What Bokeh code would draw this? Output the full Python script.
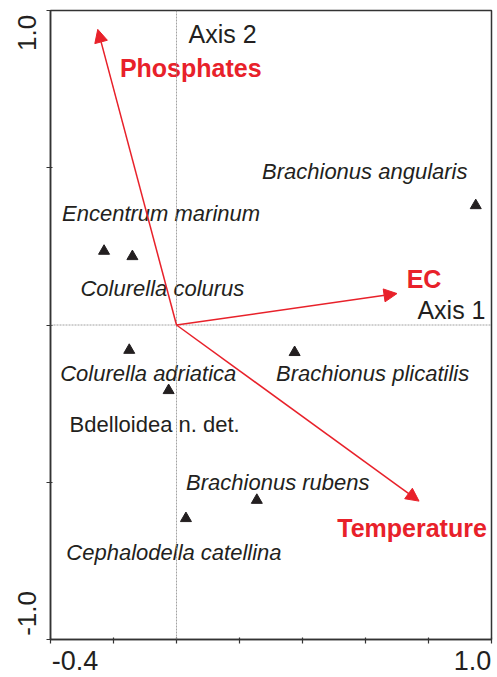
from math import pi
from bokeh.plotting import figure
from bokeh.models import ColumnDataSource, Span, Arrow, NormalHead, Label, FixedTicker, LinearAxis
from bokeh.core.properties import value
from bokeh.embed import file_html
from bokeh.resources import INLINE

# ---------------- data ----------------
species = ["Brachionus angularis", "Encentrum marinum", "Colurella colurus",
           "Colurella adriatica", "Bdelloidea n. det.", "Brachionus plicatilis",
           "Brachionus rubens", "Cephalodella catellina"]
sp_x = [0.95, -0.23, -0.14, -0.15, -0.025, 0.375, 0.255, 0.03]
sp_y = [0.38, 0.235, 0.218, -0.08, -0.208, -0.087, -0.557, -0.615]

env_names = ["Phosphates", "EC", "Temperature"]
env_x = [-0.25, 0.70, 0.77]
env_y = [0.94, 0.10, -0.56]

x_ticks = [-0.4, -0.2, 0.0, 0.2, 0.4, 0.6, 0.8, 1.0]
y_ticks = [-1.0, -0.5, 0.0, 0.5, 1.0]
x_tick_labels = ["-0.4", "1.0"]
y_tick_labels = ["-1.0", "1.0"]
axis_names = ["Axis 1", "Axis 2"]

# ---------------- layout ----------------
# label offsets (px) from their marks
sp_dx = [-111, 57, 30, 19, -14, 78, 21, -12]
sp_dy = [-34, -38, 32, 23, 34, 21, -18, 34]
sp_italic = [True, True, True, True, False, True, True, True]
env_dx = [93, 27, -7]
env_dy = [39, -15, 27]
# end tick labels are aligned to the frame edges: shift (data units) of their centres
x_lab_shift = [0.078, -0.06]
y_lab_shift = [0.083, -0.071]

RED = "#e8212a"
INK = "#231f20"
FRAME = "#333333"
FONT = "Liberation Sans"

p = figure(width=497, height=677,
           x_range=(x_ticks[0], x_ticks[-1]), y_range=(y_ticks[0], y_ticks[-1]),
           output_backend="svg", toolbar_location=None,
           min_border_left=50, min_border_right=6, min_border_top=10, min_border_bottom=38)
p.grid.visible = False
p.outline_line_color = FRAME
p.outline_line_width = 1.5
p.background_fill_color = "white"
p.border_fill_color = "white"

p.xaxis.ticker = FixedTicker(ticks=x_ticks)
p.yaxis.ticker = FixedTicker(ticks=y_ticks)
for ax in (p.xaxis[0], p.yaxis[0]):
    ax.axis_line_color = FRAME
    ax.axis_line_width = 1.5
    ax.major_tick_line_color = FRAME
    ax.major_tick_line_width = 1.2
    ax.major_tick_out = 4
    ax.major_tick_in = 2
    ax.minor_tick_line_color = None
    ax.major_label_text_color = None
    ax.major_label_text_font_size = "1px"
    ax.major_label_standoff = 0

# end tick labels on separate label-only axes (so they align with the frame ends)
xt = [round(x_ticks[0] + x_lab_shift[0], 4), round(x_ticks[-1] + x_lab_shift[1], 4)]
yt = [round(y_ticks[0] + y_lab_shift[0], 4), round(y_ticks[-1] + y_lab_shift[1], 4)]
xlab = LinearAxis(ticker=FixedTicker(ticks=xt),
                  major_label_overrides={xt[0]: x_tick_labels[0], xt[1]: x_tick_labels[1]},
                  major_label_standoff=7, major_label_text_font_size="27px")
ylab = LinearAxis(ticker=FixedTicker(ticks=yt),
                  major_label_overrides={yt[0]: y_tick_labels[0], yt[1]: y_tick_labels[1]},
                  major_label_orientation="parallel",
                  major_label_standoff=10, major_label_text_font_size="26px")
for ax in (xlab, ylab):
    ax.axis_line_color = None
    ax.major_tick_line_color = None
    ax.minor_tick_line_color = None
    ax.major_tick_out = 0
    ax.major_tick_in = 0
    ax.major_label_text_font = FONT
    ax.major_label_text_color = INK
p.add_layout(xlab, "below")
p.add_layout(ylab, "left")

# zero lines
p.add_layout(Span(location=0, dimension="height", line_color="#8a8a8a",
                  line_width=0.8, line_dash="2 1"))
p.add_layout(Span(location=0, dimension="width", line_color="#8a8a8a",
                  line_width=0.8, line_dash="2 1"))

# environmental arrows
env_src = ColumnDataSource(dict(x0=[0.0] * len(env_x), y0=[0.0] * len(env_y),
                                x1=env_x, y1=env_y, name=env_names,
                                dx=env_dx, dy=env_dy))
p.add_layout(Arrow(source=env_src, x_start="x0", y_start="y0", x_end="x1", y_end="y1",
                   line_color=RED, line_width=1.5,
                   end=NormalHead(size=13, fill_color=RED, line_color=RED, line_width=1)))
p.text(x="x1", y="y1", text="name", x_offset="dx", y_offset="dy", source=env_src,
       text_align="center", text_baseline="middle", text_font=value(FONT),
       text_font_size="25px", text_font_style="bold", text_color=RED)

# species
p.scatter(sp_x, sp_y, marker="triangle", size=11, color=INK)
for italic in (True, False):
    idx = [i for i, it in enumerate(sp_italic) if it == italic]
    src = ColumnDataSource(dict(x=[sp_x[i] for i in idx], y=[sp_y[i] for i in idx],
                                name=[species[i] for i in idx],
                                dx=[sp_dx[i] for i in idx], dy=[sp_dy[i] for i in idx]))
    p.text(x="x", y="y", text="name", x_offset="dx", y_offset="dy", source=src,
           text_align="center", text_baseline="middle", text_font=value(FONT),
           text_font_size="22px", text_font_style="italic" if italic else "normal",
           text_color=INK)

# axis names
p.add_layout(Label(x=x_ticks[-1], y=0, text=axis_names[0], x_offset=-6, y_offset=15,
                   text_align="right", text_baseline="middle", text_font=FONT,
                   text_font_size="25px", text_color=INK))
p.add_layout(Label(x=0, y=y_ticks[-1], text=axis_names[1], x_offset=12, y_offset=-23,
                   text_align="left", text_baseline="middle", text_font=FONT,
                   text_font_size="25px", text_color=INK))

open("out.html", "w").write(file_html(p, INLINE))
